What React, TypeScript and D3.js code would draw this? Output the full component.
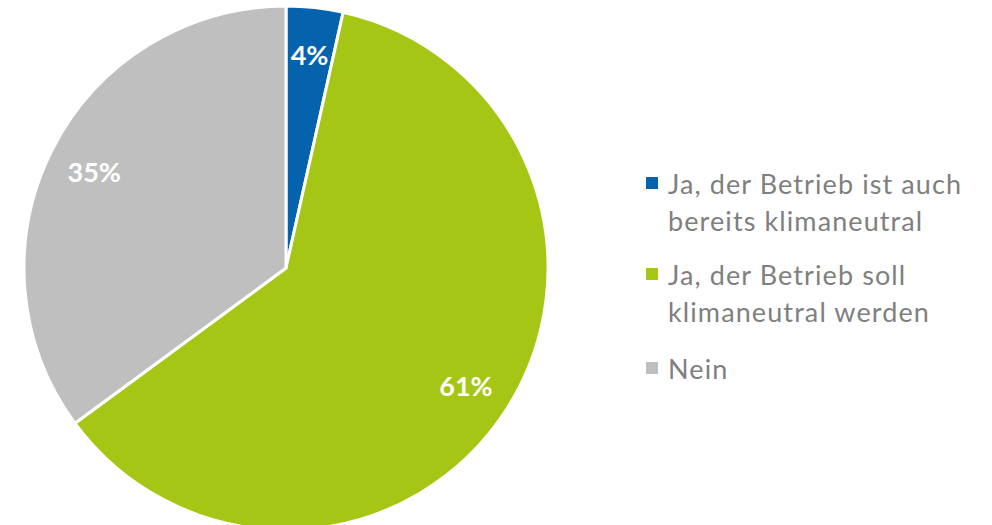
import * as d3 from "d3";
import { useEffect, useRef } from "react";

const categories = [
  "Ja, der Betrieb ist auch bereits klimaneutral",
  "Ja, der Betrieb soll klimaneutral werden",
  "Nein",
];
const legendLines = [
  ["Ja, der Betrieb ist auch", "bereits klimaneutral"],
  ["Ja, der Betrieb soll", "klimaneutral werden"],
  ["Nein"],
];
const values = [3.5, 61.4, 35.1];
const labels = ["4%", "61%", "35%"];
const colors = ["#0563AE", "#A5C615", "#BFBFBF"];

const W = 992;
const H = 525;

const App = () => {
  const ref = useRef<SVGSVGElement | null>(null);

  useEffect(() => {
    const svg = d3.select(ref.current);
    svg.selectAll("*").remove();

    const cx = 286;
    const cy = 268;
    const r = 262;

    const pie = d3.pie<number>().sort(null).value((d) => d);
    const arcs = pie(values);
    const arc = d3.arc<d3.PieArcDatum<number>>().innerRadius(0).outerRadius(r);
    const labelArc = d3
      .arc<d3.PieArcDatum<number>>()
      .innerRadius(r * 0.82)
      .outerRadius(r * 0.82);

    const g = svg.append("g").attr("transform", `translate(${cx},${cy})`);

    g.selectAll("path")
      .data(arcs)
      .enter()
      .append("path")
      .attr("d", arc)
      .attr("fill", (d, i) => colors[i])
      .attr("stroke", "white")
      .attr("stroke-width", 3)
      .attr("stroke-linejoin", "round");

    g.selectAll("text")
      .data(arcs)
      .enter()
      .append("text")
      .attr("transform", (d) => {
        const [x, y] = labelArc.centroid(d);
        return `translate(${x},${y})`;
      })
      .attr("text-anchor", "middle")
      .attr("dominant-baseline", "central")
      .attr("fill", "white")
      .attr("font-weight", "bold")
      .attr("font-size", 27)
      .text((d, i) => labels[i]);

    // legend
    const legendX = 646;
    const rowY = [183, 274, 368];
    const lineH = 37;
    const lg = svg.append("g");
    categories.forEach((c, i) => {
      const row = lg.append("g").attr("transform", `translate(${legendX},${rowY[i]})`);
      row
        .append("rect")
        .attr("x", 0)
        .attr("y", -6)
        .attr("width", 12)
        .attr("height", 12)
        .attr("fill", colors[i]);
      const t = row
        .append("text")
        .attr("x", 22)
        .attr("y", 0)
        .attr("dominant-baseline", "central")
        .attr("fill", "#7F7F7F")
        .attr("font-size", 27)
        .attr("letter-spacing", 1.1);
      legendLines[i].forEach((ln, j) => {
        t.append("tspan").attr("x", 22).attr("y", j * lineH).text(ln);
      });
    });
  }, []);

  return (
    <svg
      ref={ref}
      width={W}
      height={H}
      style={{
        position: "absolute",
        left: 0,
        top: 0,
        fontFamily: "Lato, 'Open Sans', sans-serif",
        background: "white",
      }}
    />
  );
};

export default App;
